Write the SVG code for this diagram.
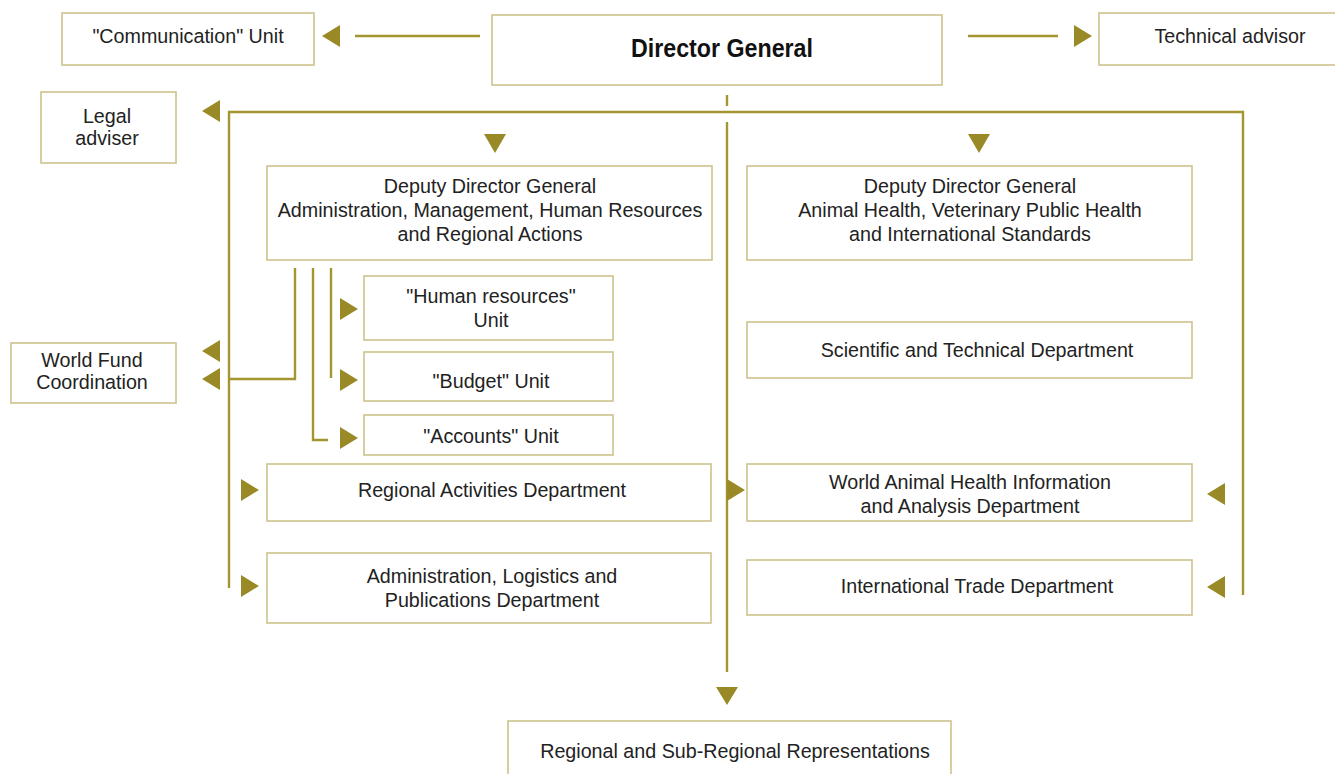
<svg xmlns="http://www.w3.org/2000/svg" width="1335" height="774" viewBox="0 0 1335 774">
<style>
.box{fill:#fff;stroke:#cdc38c;stroke-width:1.6}
.t{font-family:"Liberation Sans",Arial,sans-serif;font-size:19.7px;fill:#222;text-anchor:middle}
.b{font-weight:bold;font-size:25px;fill:#111}
.ln{fill:none;stroke:#a39530;stroke-width:2.4}
.ar{fill:#9a8a27}
</style>
<rect width="1335" height="774" fill="#fff"/>
<g id="connectors">
<path class="ln" d="M355 36H480"/>
<path class="ln" d="M968 36H1058"/>
<path class="ln" d="M727 95V106"/>
<path class="ln" d="M229 588V112H1243V595"/>
<path class="ln" d="M727 122V672"/>
<path class="ln" d="M295 268V379H229"/>
<path class="ln" d="M313 268V440H328"/>
<path class="ln" d="M331 268V378"/>
<polygon class="ar" points="322,36 340,25 340,47"/>
<polygon class="ar" points="1092,36 1074,25 1074,47"/>
<polygon class="ar" points="202,111 220,100 220,122"/>
<polygon class="ar" points="202,351 220,340 220,362"/>
<polygon class="ar" points="202,379 220,368 220,390"/>
<polygon class="ar" points="484,134 506,134 495,153"/>
<polygon class="ar" points="968,134 990,134 979,153"/>
<polygon class="ar" points="358,309 340,298 340,320"/>
<polygon class="ar" points="358,380 340,369 340,391"/>
<polygon class="ar" points="358,438 340,427 340,449"/>
<polygon class="ar" points="259,490 241,479 241,501"/>
<polygon class="ar" points="259,586 241,575 241,597"/>
<polygon class="ar" points="745,490 727,479 727,501"/>
<polygon class="ar" points="1207,494 1225,483 1225,505"/>
<polygon class="ar" points="1207,587 1225,576 1225,598"/>
<polygon class="ar" points="716,687 738,687 727,705"/>
</g>
<g id="communication">
<rect class="box" x="62" y="13" width="252" height="52"/>
<text class="t" x="188" y="43">"Communication" Unit</text>
</g>
<g id="director">
<rect class="box" x="492" y="15" width="450" height="70"/>
<text class="t b" x="722" y="57" textLength="182" lengthAdjust="spacingAndGlyphs">Director General</text>
</g>
<g id="technical">
<rect class="box" x="1099" y="13" width="250" height="52"/>
<text class="t" x="1230" y="43">Technical advisor</text>
</g>
<g id="legal">
<rect class="box" x="41" y="92" width="135" height="71"/>
<text class="t" x="107" y="123">Legal</text>
<text class="t" x="107" y="145">adviser</text>
</g>
<g id="worldfund">
<rect class="box" x="11" y="343" width="165" height="60"/>
<text class="t" x="92" y="367">World Fund</text>
<text class="t" x="92" y="389">Coordination</text>
</g>
<g id="ddg-admin">
<rect class="box" x="267" y="166" width="445" height="94"/>
<text class="t" x="490" y="193">Deputy Director General</text>
<text class="t" x="490" y="217">Administration, Management, Human Resources</text>
<text class="t" x="490" y="241">and Regional Actions</text>
</g>
<g id="ddg-health">
<rect class="box" x="747" y="166" width="445" height="94"/>
<text class="t" x="970" y="193">Deputy Director General</text>
<text class="t" x="970" y="217">Animal Health, Veterinary Public Health</text>
<text class="t" x="970" y="241">and International Standards</text>
</g>
<g id="hr">
<rect class="box" x="364" y="276" width="249" height="64"/>
<text class="t" x="491" y="303">"Human resources"</text>
<text class="t" x="491" y="327">Unit</text>
</g>
<g id="budget">
<rect class="box" x="364" y="352" width="249" height="49"/>
<text class="t" x="491" y="388">"Budget" Unit</text>
</g>
<g id="accounts">
<rect class="box" x="364" y="415" width="249" height="40"/>
<text class="t" x="491" y="443">"Accounts" Unit</text>
</g>
<g id="scientific">
<rect class="box" x="747" y="322" width="445" height="56"/>
<text class="t" x="977" y="357">Scientific and Technical Department</text>
</g>
<g id="regional-activities">
<rect class="box" x="267" y="464" width="444" height="57"/>
<text class="t" x="492" y="497">Regional Activities Department</text>
</g>
<g id="admin-logistics">
<rect class="box" x="267" y="553" width="444" height="70"/>
<text class="t" x="492" y="583">Administration, Logistics and</text>
<text class="t" x="492" y="607">Publications Department</text>
</g>
<g id="wahid">
<rect class="box" x="747" y="464" width="445" height="57"/>
<text class="t" x="970" y="489">World Animal Health Information</text>
<text class="t" x="970" y="513">and Analysis Department</text>
</g>
<g id="trade">
<rect class="box" x="747" y="560" width="445" height="55"/>
<text class="t" x="977" y="593">International Trade Department</text>
</g>
<g id="representations">
<rect class="box" x="508" y="721" width="443" height="70"/>
<text class="t" x="735" y="758">Regional and Sub-Regional Representations</text>
</g>
</svg>
